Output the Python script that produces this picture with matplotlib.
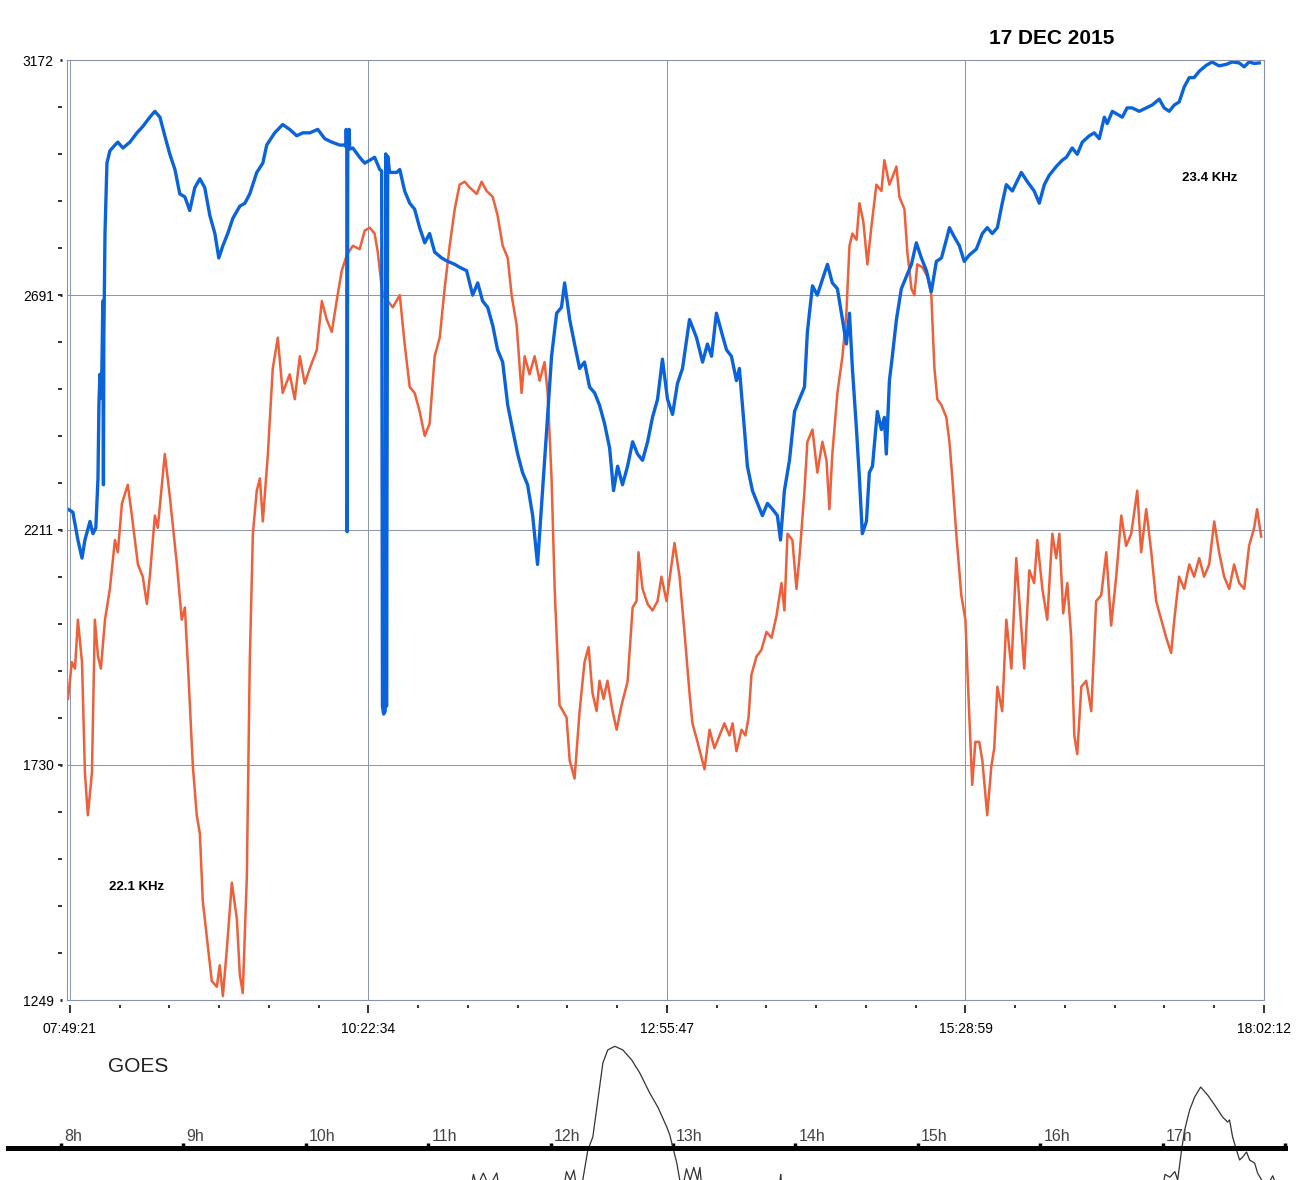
import numpy as np
import matplotlib.pyplot as plt
from matplotlib.ticker import FixedLocator

plt.rcParams['font.family'] = ['Liberation Sans', 'DejaVu Sans']

# VLF signal levels, time in minutes after 07:49:21
t_22k = [-1.0, 1.0, 2.6, 4.1, 6.2, 7.7, 9.2, 11.3, 12.8, 14.4, 15.9, 18.0, 20.5, 23.1, 24.6, 26.7, 29.7, 31.8,
         34.9, 37.4, 39.5, 41.0, 43.6, 45.1, 48.7, 51.3, 54.9, 57.4, 59.0, 60.5, 63.1, 65.1, 66.7, 68.2, 70.3,
         72.8, 75.4, 76.9, 78.5, 80.5, 83.1, 85.7, 87.2, 88.7, 90.8, 92.3, 93.9, 95.9, 97.5, 99.0, 101.6, 104.1,
         106.7, 109.2, 112.8, 115.4, 118.0, 120.5, 123.1, 126.7, 129.3, 131.8, 134.4, 136.9, 139.5, 142.1, 145.2,
         148.7, 151.3, 153.9, 156.4, 158.0, 160.5, 163.1, 165.7, 169.3, 171.8, 174.4, 176.9, 179.5, 182.1, 184.6,
         187.2, 189.8, 192.3, 194.9, 197.5, 200.0, 202.6, 205.2, 208.8, 211.3, 213.9, 217.0, 219.5, 222.1, 224.7,
         226.7, 229.3, 231.8, 233.4, 235.9, 238.5, 241.1, 243.6, 245.2, 247.2, 248.8, 251.3, 254.9, 256.5, 259.0,
         261.6, 264.1, 266.2, 268.2, 270.3, 271.8, 273.9, 275.9, 278.5, 280.6, 283.1, 286.2, 288.8, 290.8, 291.8,
         293.9, 296.5, 299.0, 301.6, 303.6, 306.2, 310.3, 312.9, 315.4, 318.0, 319.5, 322.1, 325.7, 328.3, 330.8,
         333.4, 335.9, 338.5, 340.1, 342.1, 344.7, 346.7, 348.3, 349.8, 352.4, 354.9, 357.5, 360.1, 362.6, 365.2,
         366.7, 368.3, 370.8, 372.9, 374.4, 377.0, 378.5, 381.1, 383.6, 386.2, 388.3, 389.8, 391.3, 393.9, 396.5,
         398.5, 400.1, 401.6, 403.7, 405.2, 407.2, 409.3, 411.3, 413.9, 416.5, 418.0, 420.6, 424.2, 425.7, 428.3,
         429.8, 431.9, 433.4, 434.9, 437.5, 440.1, 442.1, 443.7, 445.2, 447.3, 449.8, 451.4, 452.9, 454.9, 457.5,
         459.6, 461.1, 463.1, 464.7, 466.7, 468.3, 470.8, 472.9, 474.4, 476.0, 478.5, 480.6, 483.2, 485.7, 487.3,
         489.8, 492.4, 494.9, 496.5, 499.1, 501.6, 504.2, 506.2, 507.8, 509.8, 511.9, 513.9, 515.5, 517.0, 519.1,
         521.6, 524.2, 526.7, 529.3, 531.9, 534.4, 537.0, 539.6, 542.1, 544.7, 547.8, 549.8, 552.4, 555.0, 557.5,
         560.1, 562.7, 565.2, 566.8, 569.3, 571.9, 574.5, 577.0, 579.6, 582.1, 584.7, 587.3, 589.8, 592.4, 595.0,
         597.5, 600.1, 602.7, 605.2, 607.8, 609.3, 611.4]
v_22k = [1865, 1940, 1927, 2027, 1940, 1714, 1627, 1714, 2027, 1952, 1927, 2027, 2090, 2190, 2165, 2265, 2303, 2240,
         2140, 2115, 2059, 2115, 2240, 2215, 2366, 2278, 2140, 2027, 2052, 1940, 1727, 1627, 1589, 1451, 1376,
         1288, 1276, 1320, 1257, 1351, 1489, 1414, 1301, 1263, 1501, 1940, 2203, 2291, 2316, 2228, 2366, 2541,
         2604, 2491, 2529, 2478, 2566, 2510, 2541, 2579, 2679, 2641, 2616, 2679, 2741, 2773, 2792,
         2785, 2823, 2829, 2817, 2779, 2691, 2679, 2666, 2691, 2591, 2503, 2491, 2453, 2403, 2428,
         2566, 2604, 2704, 2792, 2867, 2917, 2923, 2911, 2898, 2923, 2904, 2892, 2854, 2792, 2767,
         2691, 2629, 2491, 2566, 2529, 2566, 2516, 2554, 2491, 2316, 2090, 1852, 1827, 1739, 1702,
         1840, 1940, 1971, 1877, 1840, 1902, 1865, 1902, 1840, 1802, 1852, 1900, 2052, 2065, 2165,
         2090, 2059, 2046, 2065, 2115, 2065, 2184, 2115, 2002, 1877, 1815, 1777, 1721, 1802, 1764,
         1790, 1815, 1790, 1815, 1758, 1802, 1790, 1827, 1915, 1952, 1965, 2002, 1990, 2034, 2102,
         2046, 2203, 2190, 2090, 2153, 2291, 2391, 2416, 2328, 2391, 2353, 2253, 2366, 2491, 2566,
         2654, 2792, 2817, 2804, 2879, 2842, 2754, 2829, 2917, 2904, 2967, 2917, 2954, 2892, 2867,
         2779, 2704, 2691, 2754, 2748, 2729, 2691, 2541, 2478, 2466, 2441, 2391, 2316, 2203, 2077,
         2027, 1877, 1689, 1777, 1777, 1739, 1627, 1727, 1764, 1890, 1840, 2027, 1927, 2153, 2065,
         1927, 2128, 2102, 2190, 2090, 2027, 2203, 2153, 2203, 2040, 2102, 1990, 1790, 1752, 1890,
         1902, 1840, 2065, 2077, 2165, 2015, 2115, 2240, 2178, 2203, 2291, 2165, 2253, 2165, 2065,
         2027, 1990, 1959, 2027, 2115, 2090, 2140, 2115, 2153, 2115, 2140, 2228, 2165, 2115, 2090,
         2140, 2102, 2090, 2178, 2215, 2253, 2197]

t_23k = [-1.0, 1.5, 4.1, 6.2, 7.7, 10.3, 11.8, 13.3, 14.4, 14.9, 15.4, 15.9, 16.4, 16.9, 17.2, 17.4, 18.0, 19.0,
         20.5, 23.1, 24.6, 27.2, 30.8, 34.4, 37.4, 41.0, 43.6, 46.2, 48.7, 51.3, 53.9, 56.4, 59.0, 61.5, 64.1,
         66.7, 69.2, 71.8, 74.4, 76.4, 78.5, 81.0, 83.6, 87.2, 89.8, 92.3, 95.9, 99.0, 101.0, 105.1, 109.2, 112.8,
         116.4, 119.5, 123.1, 127.2, 130.8, 134.4, 138.5, 141.0, 141.6, 141.8, 142.1, 142.3, 142.6, 143.3, 143.6,
         145.2, 148.7, 151.3, 153.9, 156.4, 159.0, 160.0, 160.4, 161.0, 161.8, 162.1, 162.5, 163.1, 164.1, 167.7,
         169.3, 171.8, 174.4, 176.9, 179.5, 182.1, 184.6, 187.2, 190.8, 193.9, 197.5, 200.0, 203.6, 206.7, 209.3,
         211.8, 214.4, 217.0, 219.5, 222.1, 224.7, 227.2, 229.8, 232.3, 234.9, 237.5, 240.0, 242.6, 244.7, 247.2,
         249.8, 252.3, 253.9, 256.5, 259.0, 261.6, 264.1, 266.7, 269.3, 271.8, 274.4, 277.0, 279.0, 281.1, 283.6,
         286.2, 288.8, 291.3, 293.9, 296.5, 299.0, 301.6, 304.1, 306.7, 309.3, 311.8, 314.4, 318.0, 321.6, 324.7,
         327.2, 329.3, 331.8, 334.4, 337.0, 339.5, 342.1, 343.6, 346.2, 347.7, 350.3, 352.9, 355.4, 358.0, 360.6,
         363.1, 364.7, 366.7, 369.3, 371.9, 374.4, 377.0, 378.5, 381.1, 383.6, 386.2, 388.8, 391.3, 393.9, 396.5,
         398.5, 400.1, 401.6, 403.7, 405.2, 406.7, 408.8, 410.3, 411.9, 414.4, 416.5, 418.0, 419.0, 420.6, 422.1,
         424.2, 426.7, 429.3, 431.9, 434.4, 437.0, 439.6, 442.1, 444.7, 447.3, 449.8, 451.4, 453.9, 456.5, 459.0,
         461.6, 465.2, 468.3, 470.8, 473.4, 476.0, 478.5, 480.6, 483.7, 488.3, 491.4, 494.9, 497.5, 500.1, 502.6,
         506.2, 509.3, 511.4, 514.4, 517.0, 519.6, 523.2, 525.7, 528.3, 530.9, 532.4, 535.0, 537.5, 540.1, 542.6,
         545.2, 548.8, 552.4, 555.5, 559.1, 561.6, 564.2, 566.8, 569.3, 571.9, 574.5, 577.0, 579.6, 583.2, 586.2,
         589.8, 593.4, 596.5, 600.1, 602.7, 605.2, 607.8, 610.4]
v_23k = [2253, 2247, 2190, 2153, 2190, 2228, 2203, 2215, 2316, 2470, 2529, 2480, 2541, 2679, 2303, 2600, 2817, 2961,
         2986, 2998, 3004, 2992, 3004, 3023, 3036, 3055, 3067, 3055, 3017, 2979, 2948, 2898, 2892, 2864, 2911,
         2929, 2911, 2854, 2817, 2767, 2792, 2817, 2848, 2873, 2879, 2898, 2942, 2961, 2998, 3023, 3040, 3030,
         3017, 3023, 3023, 3030, 3011, 3004, 2998, 2998, 2995, 3030, 2990, 2207, 2990, 3030, 2990,
         2992, 2973, 2961, 2967, 2973, 2948, 2945, 1850, 1834, 1840, 2980, 1850, 2975, 2942, 2942,
         2948, 2904, 2879, 2867, 2829, 2798, 2817, 2779, 2767, 2760, 2754, 2748, 2741, 2691, 2716,
         2679, 2666, 2629, 2579, 2554, 2466, 2416, 2366, 2328, 2303, 2240, 2140, 2291, 2416, 2566,
         2654, 2666, 2716, 2641, 2591, 2541, 2554, 2503, 2491, 2466, 2428, 2378, 2291, 2341, 2303,
         2341, 2391, 2366, 2353, 2391, 2441, 2478, 2560, 2478, 2447, 2510, 2541, 2641, 2604, 2554,
         2591, 2566, 2654, 2616, 2579, 2566, 2516, 2541, 2416, 2341, 2291, 2265, 2240, 2265, 2253,
         2240, 2190, 2291, 2353, 2453, 2478, 2503, 2616, 2710, 2691, 2723, 2754, 2716, 2704, 2641,
         2591, 2654, 2541, 2416, 2316, 2203, 2228, 2328, 2341, 2453, 2416, 2441, 2366, 2516, 2566,
         2641, 2704, 2729, 2754, 2798, 2767, 2741, 2698, 2760, 2767, 2804, 2829, 2810, 2792, 2760,
         2773, 2785, 2817, 2829, 2817, 2829, 2879, 2917, 2904, 2942, 2923, 2904, 2879, 2917, 2936,
         2954, 2967, 2973, 2992, 2979, 3004, 3017, 3023, 3011, 3055, 3042, 3067, 3061, 3055, 3074,
         3074, 3067, 3074, 3080, 3092, 3074, 3067, 3080, 3086, 3117, 3136, 3136, 3149, 3161, 3168,
         3160, 3163, 3168, 3166, 3158, 3168, 3165, 3166]

x_labels = ['07:49:21', '10:22:34', '12:55:47', '15:28:59', '18:02:12']
y_ticks = [1249, 1730, 2211, 2691, 3172]

# GOES x-ray trace, UT hours / relative level
goes_h = [7.57, 11.30, 11.37, 11.40, 11.45, 11.50, 11.56, 11.62, 12.08, 12.13, 12.16, 12.19, 12.22, 12.263,
          12.304, 12.345, 12.386, 12.427, 12.467, 12.525, 12.590, 12.663, 12.729, 12.810, 12.876, 12.949,
          12.974, 12.998, 13.031, 13.055, 13.08, 13.11, 13.14, 13.17, 13.20, 13.22, 13.26, 13.85, 13.88, 13.91,
          16.95, 17.02, 17.06, 17.10, 17.123, 17.155, 17.180, 17.221, 17.262, 17.311, 17.368, 17.425, 17.490,
          17.531, 17.547, 17.572, 17.604, 17.629, 17.654, 17.686, 17.711, 17.752, 17.776, 17.809, 17.85, 17.90,
          18.0]
goes_level = [-0.3, -0.3, 0.04, -0.05, 0.05, -0.05, 0.05, -0.3, -0.2, 0.06, 0.0, 0.07, -0.1, 0.0,
              0.214, 0.307, 0.571, 0.836, 0.929, 0.955, 0.929, 0.857, 0.764, 0.621, 0.521, 0.379,
              0.321, 0.236, 0.121, 0.0, -0.05, 0.08, 0.0, 0.09, 0.0, 0.09, -0.3, -0.2, 0.04, -0.3,
              -0.3, 0.04, 0.02, 0.06, 0.0, 0.214, 0.357, 0.5, 0.593, 0.664, 0.607, 0.536, 0.45,
              0.414, 0.429, 0.307, 0.214, 0.143, 0.164, 0.2, 0.143, 0.121, 0.05, 0.0, -0.05, 0.03,
              -0.2]
goes_hours = list(range(8, 18))

RED = '#ef5f3a'
BLUE = '#0b63dc'
GRID = '#8a93ae'


def to_min(s):
    h, m, sec = map(int, s.split(':'))
    return h * 60 + m + sec / 60.0


x_pos = [to_min(s) - to_min(x_labels[0]) for s in x_labels]

fig = plt.figure(figsize=(12.97, 11.80), dpi=100)
ax = fig.add_axes([67 / 1297, 1 - 1000 / 1180, 1197 / 1297, 940 / 1180])
ax.plot(t_22k, v_22k, color=RED, lw=1.8)
ax.plot(t_23k, v_23k, color=BLUE, lw=2.4)
ax.set_xlim(-1.5, x_pos[-1])
ax.set_ylim(y_ticks[0], y_ticks[-1])
ax.set_xticks(x_pos)
ax.set_yticks(y_ticks)
ax.tick_params(length=0, labelbottom=False, labelleft=False)
ax.grid(True, color=GRID, lw=0.7)
for sp in ax.spines.values():
    sp.set_color(GRID)
    sp.set_linewidth(0.8)

# ticks sit a few pixels away from the frame
sx = ax.secondary_xaxis(-0.0055)
sx.set_xticks(x_pos, x_labels)
sx.xaxis.set_minor_locator(FixedLocator(np.linspace(x_pos[0], x_pos[-1], 25)))
sx.spines['bottom'].set_visible(False)
sx.tick_params(which='major', length=6, width=1.3, pad=6, labelsize=10, color='#222222')
sx.tick_params(which='minor', length=2.3, width=1.3, color='#222222')

sy = ax.secondary_yaxis(-0.0042)
sy.set_yticks(y_ticks, [str(v) for v in y_ticks])
sy.yaxis.set_minor_locator(FixedLocator(np.linspace(y_ticks[0], y_ticks[-1], 21)))
sy.spines['left'].set_visible(False)
sy.tick_params(which='major', length=1.5, width=2, pad=4.5, labelsize=10, color='#222222')
sy.tick_params(which='minor', length=3, width=1.3, color='#222222')

ax.text(0.955, 0.874, '23.4 KHz', transform=ax.transAxes, ha='center', va='center',
        fontsize=9.5, fontweight='bold')
ax.text(0.0585, 0.120, '22.1 KHz', transform=ax.transAxes, ha='center', va='center',
        fontsize=9.5, fontweight='bold')
fig.text(1052 / 1297, 1 - 38 / 1180, '17 DEC 2015', ha='center', va='center', fontsize=15,
         fontweight='bold', fontstretch='condensed',
         family=['DejaVu Sans Condensed', 'Liberation Sans'])

# GOES strip at the bottom
gx = fig.add_axes([8 / 1297, 0, 1277 / 1297, 140 / 1180])
gx.patch.set_alpha(0)
gx.plot(goes_h, goes_level, color='#333333', lw=0.9)
gx.set_xlim(7.567, 17.997)
gx.set_ylim(0, 1)
for side in ['top', 'left', 'right']:
    gx.spines[side].set_visible(False)
gx.spines['bottom'].set_position(('data', 0.229))
gx.spines['bottom'].set_linewidth(3.6)
gx.spines['bottom'].set_color('black')
gx.set_yticks([])
gx.set_xticks(range(8, 19))
gx.tick_params(axis='x', direction='in', length=3.5, width=2.5, labelbottom=False)
for h in goes_hours:
    gx.text(h + 0.025, 0.279, f'{h}h', ha='left', va='baseline', fontsize=11.5, color='#444444')
fig.text(138 / 1297, 1 - 1066 / 1180, 'GOES', ha='center', va='center', fontsize=15, color='#222222')

fig.savefig('out.png', dpi=100)
